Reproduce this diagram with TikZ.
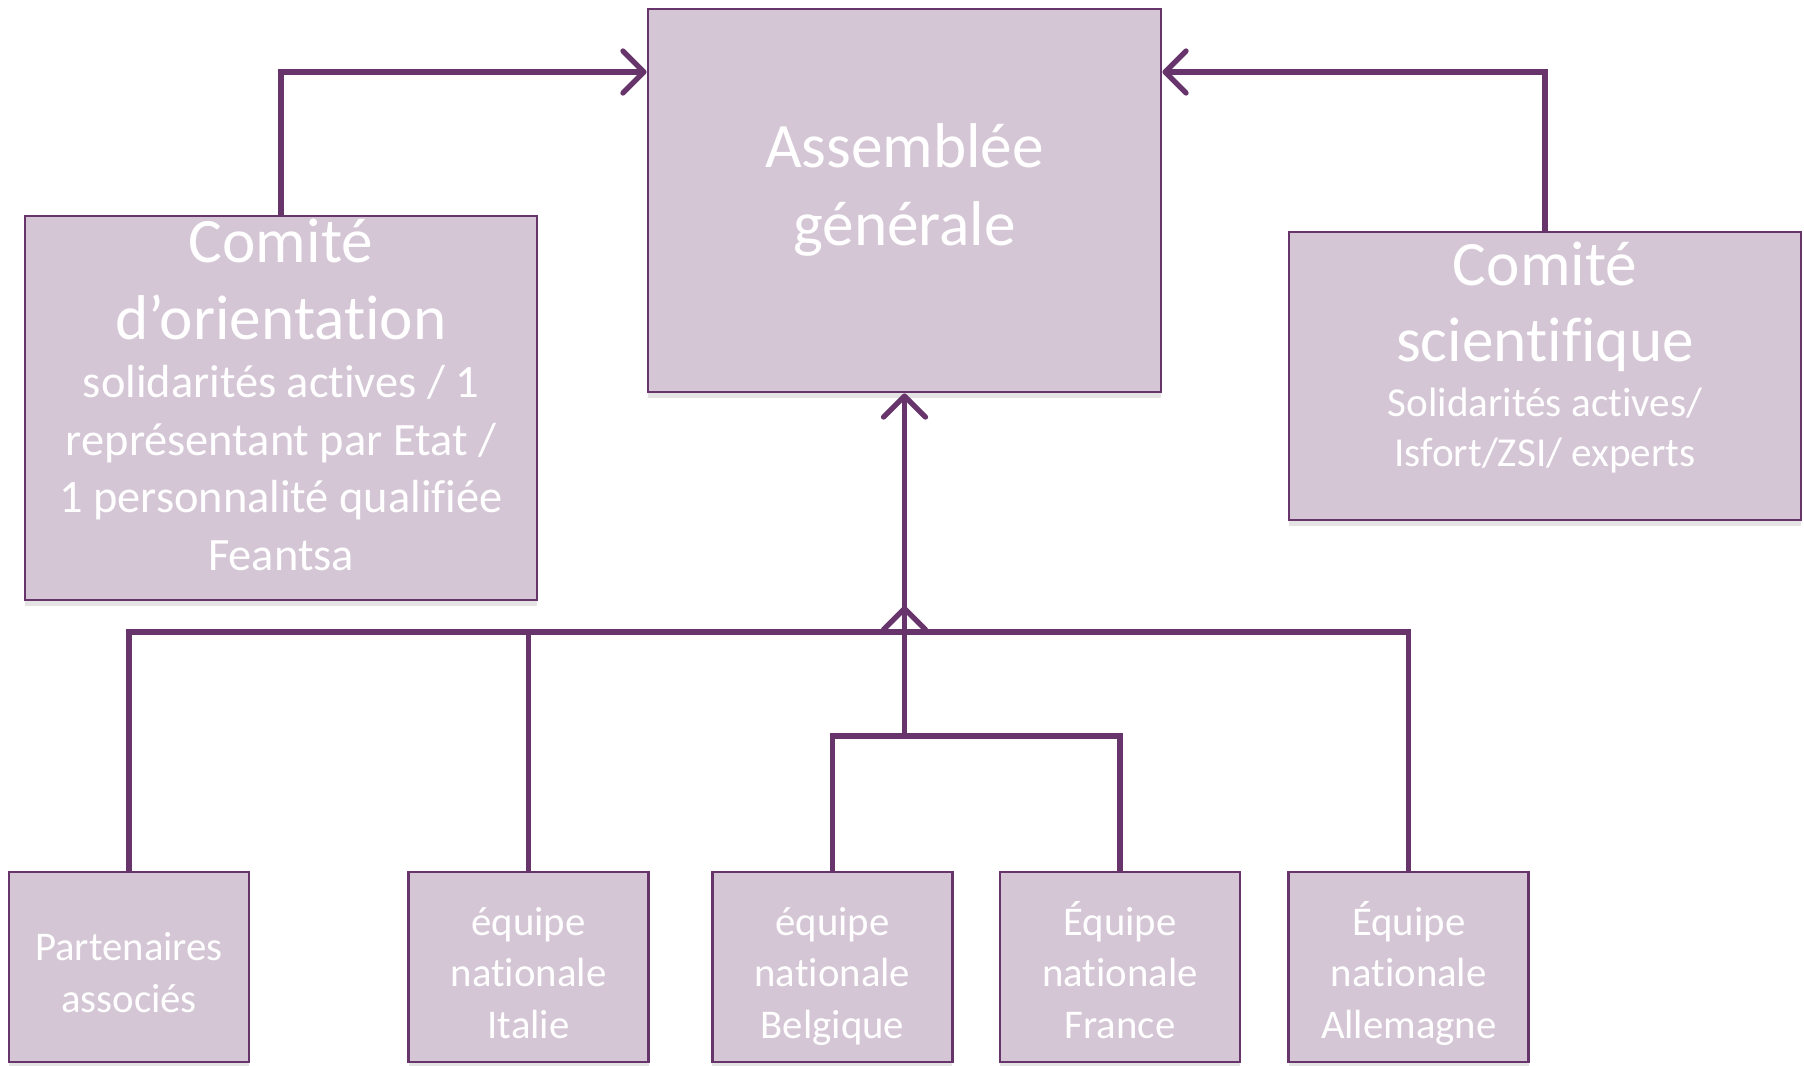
\documentclass[tikz,border=0pt]{standalone}
\usepackage{fontspec}
\setmainfont{Carlito}[Ligatures=NoCommon]
\usepackage{tikz}
\usetikzlibrary{positioning}
\usetikzlibrary{arrows.meta,shadows}

\definecolor{boxfill}{RGB}{213,198,214}
\definecolor{boxline}{RGB}{103,53,107}

\newcommand{\titlefont}{\fontsize{18}{22}\selectfont}
\newcommand{\subfont}{\fontsize{13.2}{16.4}\selectfont}
\newcommand{\smallsubfont}{\fontsize{11.7}{14.2}\selectfont}

\tikzset{
	orgbox/.style={draw=boxline, line width=0.8pt, fill=boxfill, text=white, align=center, inner sep=0pt,
		drop shadow={shadow xshift=0pt, shadow yshift=-0.6mm, opacity=0.3, fill=black!35}},
	bigbox/.style={orgbox, minimum width=5.12cm, text depth=0.15cm},
	teambox/.style={orgbox, minimum width=2.40cm, minimum height=1.90cm, text height=1.52cm, text depth=0.1cm,
		font=\fontsize{11.6}{14.6}\selectfont},
	link/.style={draw=boxline, line width=1.5pt},
	uparrow/.style={link, -{Straight Barb[length=2.1mm,width=4.2mm,round]}},
}

\begin{document}
\begin{tikzpicture}
	
	% ---------------------
	% Proper size --- Bounding box
	\useasboundingbox (0cm, 0cm) rectangle (18.04cm, -10.65cm);
	
	% ---------------------
	% Upper level
	
	\node[bigbox, minimum width=5.13cm, minimum height=3.83cm, text height=1.04cm, font=\titlefont] (Assemb) at (9.045cm, -2.005cm)
		{Assemblée\\générale};
	
	\node[bigbox, minimum height=3.84cm, text height=3.40cm, font=\subfont] (Orient) at (2.81cm, -4.08cm)
		{{\titlefont Comité}\\[5.6pt]{\titlefont d’orientation}\\solidarités actives / 1\\représentant par Etat /\\1 personnalité qualifiée\\Feantsa};
	
	\node[bigbox, minimum height=2.88cm, text height=1.95cm, font=\smallsubfont] (Scient) at (15.45cm, -3.76cm)
		{{\titlefont Comité}\\[7.7pt]{\titlefont scientifique}\\[1.2pt]Solidarités actives/\\Isfort/ZSI/ experts};
	
	% ---------------------
	% National teams
	
	\coordinate (Teams) at (1.29cm, -9.67cm);
	
	\node[teambox, text height=1.0cm] (Part) at (Teams) {Partenaires\\associés};
	\path (Part) +(3.996cm, 0cm) node[teambox] (Ital) {équipe\\nationale\\Italie};
	\path (Ital) +(3.038cm, 0cm) node[teambox] (Belg) {équipe\\nationale\\Belgique};
	\path (Belg) +(2.876cm, 0cm) node[teambox] (Fran) {Équipe\\nationale\\France};
	\path (Fran) +(2.888cm, 0cm) node[teambox] (Allem) {Équipe\\nationale\\Allemagne};
	
	% ---------------------
	% Connectors
	
	\coordinate (TopLine) at (0cm, -0.72cm);
	\coordinate (Bus) at (0cm, -6.32cm);
	\coordinate (BusTip) at (0cm, -6.06cm);
	\coordinate (SubBus) at (0cm, -7.36cm);
	
	\draw[uparrow] (Orient.north) |- (Assemb.west |- TopLine);
	\draw[uparrow] (Scient.north) |- (Assemb.east |- TopLine);
	
	\draw[link] (Part.north) |- (Allem.north |- Bus) -- (Allem.north);
	\draw[link] (Ital.north) -- (Ital.north |- Bus);
	\draw[link] (Belg.north) |- (Fran.north |- SubBus) -- (Fran.north);
	
	\draw[uparrow] (Assemb.south |- SubBus) -- (Assemb.south |- BusTip);
	\draw[uparrow] (Assemb.south |- Bus) -- (Assemb.south);
	
\end{tikzpicture}
\end{document}
